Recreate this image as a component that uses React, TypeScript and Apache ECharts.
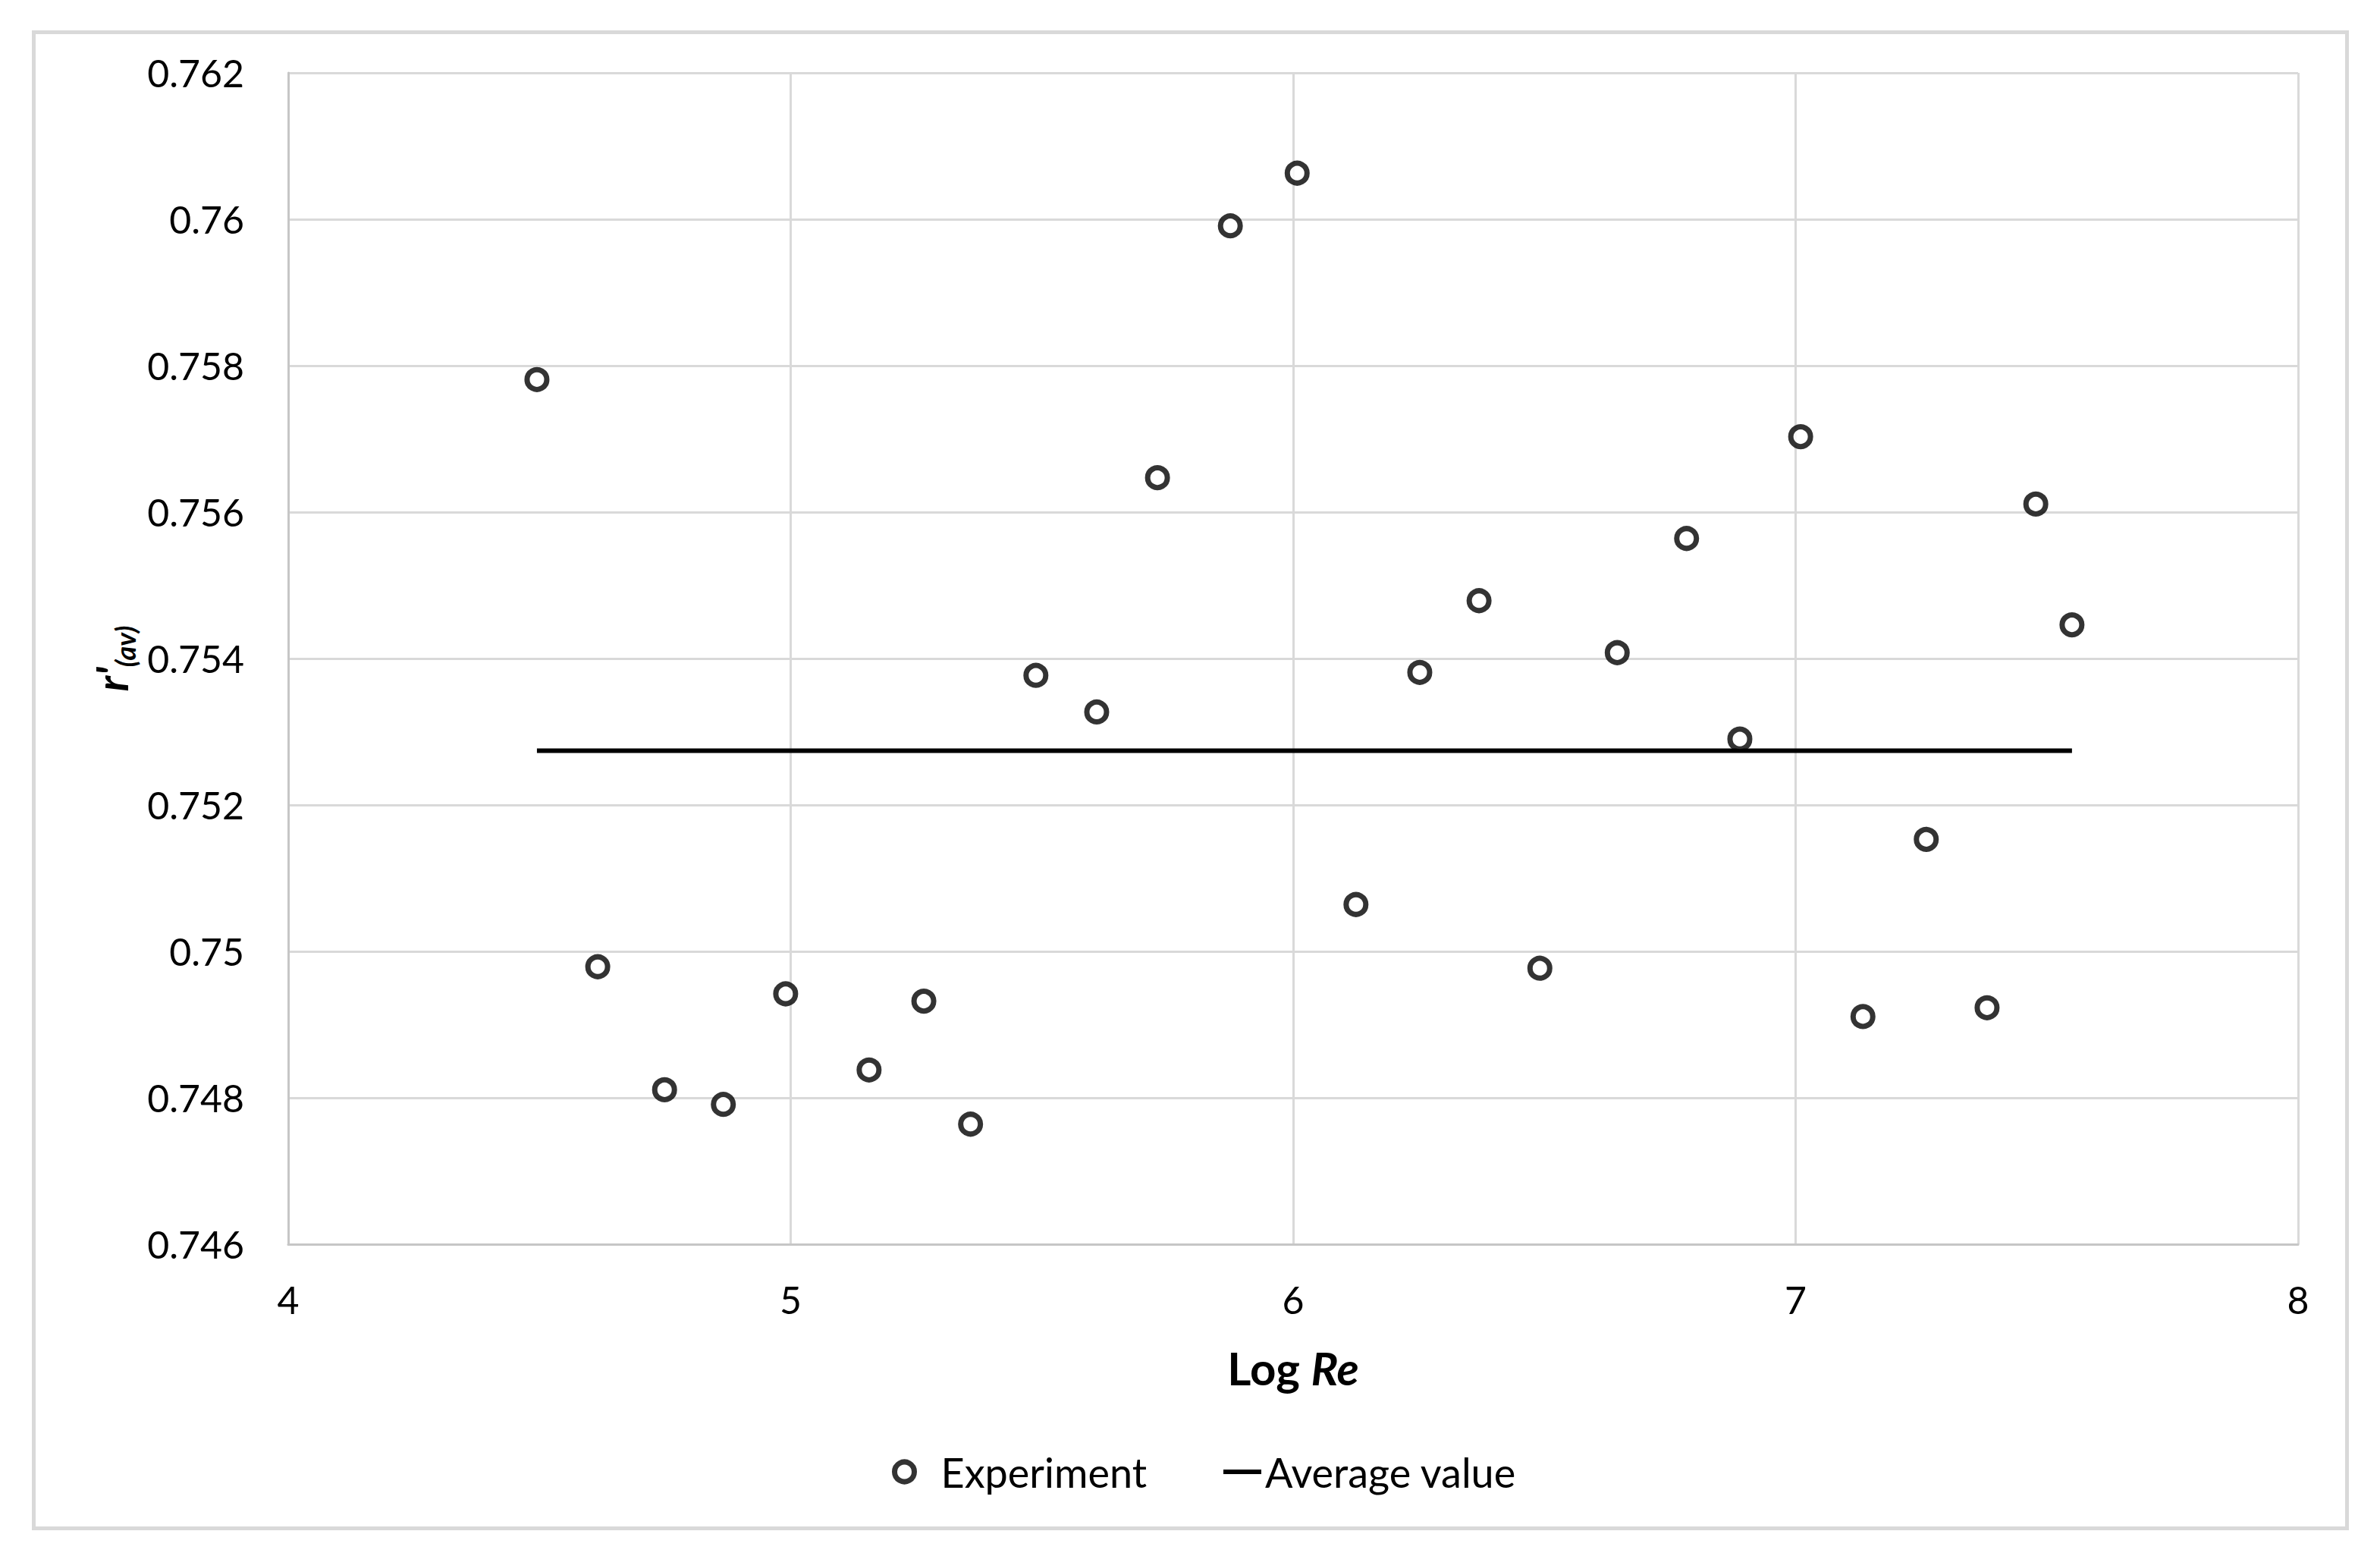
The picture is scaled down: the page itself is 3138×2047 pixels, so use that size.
import React, { useEffect, useRef } from "react";
import * as echarts from "echarts";

// Log Re values of the experiment points
const logRe = [
  4.495, 4.616, 4.749, 4.866, 4.99, 5.156, 5.265, 5.358, 5.488, 5.609, 5.73, 5.875, 6.008,
  6.125, 6.252, 6.37, 6.491, 6.645, 6.783, 6.889, 7.01, 7.134, 7.26, 7.381, 7.478, 7.55,
];
// r'(av) values of the experiment points
const rAv = [
  0.75781, 0.74979, 0.74811, 0.74791, 0.74942, 0.74838, 0.74932, 0.74764, 0.75377, 0.75327,
  0.75647, 0.75991, 0.76063, 0.75064, 0.75381, 0.75479, 0.74977, 0.75408, 0.75564, 0.7529,
  0.75703, 0.74911, 0.75153, 0.74923, 0.75611, 0.75446,
];
const averageValue = 0.75274;
const xMin = 4;
const xMax = 8;
const xInterval = 1;
const yMin = 0.746;
const yMax = 0.762;
const yInterval = 0.002;
const seriesNames = ["Experiment", "Average value"];

const FONT = "Lato";

export default function App() {
  const ref = useRef<HTMLDivElement>(null);
  useEffect(() => {
    if (!ref.current) return;
    const chart = echarts.init(ref.current, null, { renderer: "svg" });
    const scatterData = logRe.map((x, i) => [x, rAv[i]]);
    const avgData = [
      [logRe[0], averageValue],
      [logRe[logRe.length - 1], averageValue],
    ];
    const legendText = { fontFamily: FONT, fontSize: 54, color: "#000" };
    chart.setOption({
      animation: false,
      backgroundColor: "#ffffff",
      graphic: [
        {
          type: "rect",
          shape: { x: 44.5, y: 42.5, width: 3050, height: 1972 },
          style: { fill: "none", stroke: "#d9d9d9", lineWidth: 5 },
          silent: true,
        },
      ],
      grid: { left: 380, right: 108, top: 96, bottom: 407, containLabel: false },
      xAxis: {
        type: "value",
        min: xMin,
        max: xMax,
        interval: xInterval,
        name: "{b|Log }{bi|Re}",
        nameLocation: "middle",
        nameGap: 133,
        nameTextStyle: {
          rich: {
            b: { fontFamily: FONT, fontSize: 60, fontWeight: "bold", color: "#000" },
            bi: { fontFamily: FONT, fontSize: 60, fontWeight: "bold", fontStyle: "italic", color: "#000" },
          },
        },
        axisLine: { show: true, lineStyle: { color: "#c6c6c6", width: 3 } },
        axisTick: { show: false },
        axisLabel: { fontFamily: FONT, fontSize: 50, color: "#000", margin: 48 },
        splitLine: { show: true, lineStyle: { color: "#d9d9d9", width: 3 } },
      },
      yAxis: {
        type: "value",
        min: yMin,
        max: yMax,
        interval: yInterval,
        name: "{r|r'}{s|(av)}",
        nameLocation: "middle",
        nameRotate: 90,
        nameGap: 195,
        nameTextStyle: {
          rich: {
            r: {
              fontFamily: FONT, fontSize: 58, fontWeight: "bold", fontStyle: "italic",
              color: "#000", lineHeight: 66, verticalAlign: "top",
            },
            s: {
              fontFamily: FONT, fontSize: 36, fontWeight: "bold", fontStyle: "italic",
              color: "#000", lineHeight: 36, padding: [36, 0, 0, 0], verticalAlign: "bottom",
            },
          },
        },
        axisLine: { show: true, lineStyle: { color: "#c6c6c6", width: 3 } },
        axisTick: { show: false },
        axisLabel: { fontFamily: FONT, fontSize: 50, color: "#000", margin: 58 },
        splitLine: { show: true, lineStyle: { color: "#d9d9d9", width: 3 } },
      },
      legend: [
        {
          left: 1171,
          top: 1908,
          itemWidth: 86,
          itemHeight: 26,
          data: [
            {
              name: seriesNames[0],
              icon: "circle",
              itemStyle: { color: "#ffffff", borderColor: "#000000", borderWidth: 7 },
            },
          ],
          textStyle: legendText,
        },
        {
          left: 1605,
          top: 1908,
          itemWidth: 50,
          itemHeight: 26,
          data: [
            {
              name: seriesNames[1],
              itemStyle: { color: "rgba(0,0,0,0)", borderColor: "rgba(0,0,0,0)", borderWidth: 0, opacity: 0 },
              lineStyle: { color: "#000000", width: 6 },
            },
          ],
          textStyle: legendText,
        },
      ],
      series: [
        {
          name: seriesNames[0],
          type: "scatter",
          data: scatterData,
          symbol: "circle",
          symbolSize: 26,
          itemStyle: { color: "#ffffff", borderColor: "#000000", borderWidth: 7 },
          z: 3,
        },
        {
          name: seriesNames[1],
          type: "line",
          data: avgData,
          symbol: "none",
          showSymbol: false,
          lineStyle: { color: "#000000", width: 6 },
          itemStyle: { color: "#000000" },
          z: 2,
        },
      ],
    });
    return () => chart.dispose();
  }, []);
  return (
    <div
      ref={ref}
      style={{ position: "fixed", left: 0, top: 0, width: 3138, height: 2047, background: "#fff" }}
    />
  );
}
